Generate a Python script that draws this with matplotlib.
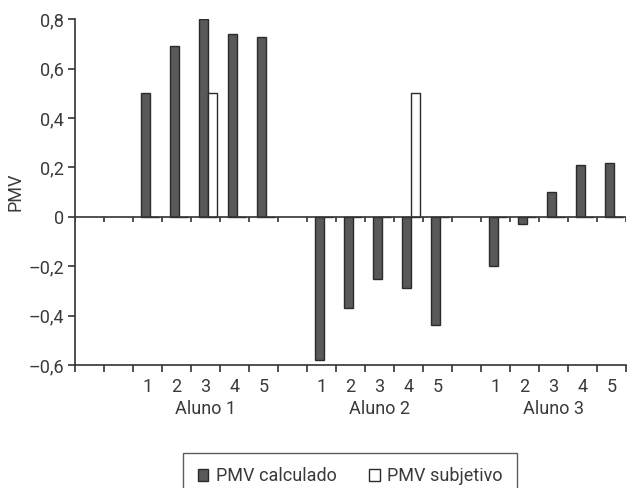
import numpy as np
import matplotlib
matplotlib.use('Agg')
import matplotlib.pyplot as plt
from matplotlib.patches import Patch
from matplotlib.transforms import ScaledTranslation

plt.rcParams['font.family'] = ['Roboto', 'DejaVu Sans']

alunos = ['Aluno 1', 'Aluno 2', 'Aluno 3']
medicoes = ['1', '2', '3', '4', '5']
calc_aluno1 = [0.50, 0.69, 0.80, 0.74, 0.73]
calc_aluno2 = [-0.58, -0.37, -0.25, -0.29, -0.44]
calc_aluno3 = [-0.20, -0.03, 0.10, 0.21, 0.22]
subj_aluno1 = [0, 0, 0.50, 0, 0]
subj_aluno2 = [0, 0, 0, 0.50, 0]
subj_aluno3 = [0, 0, 0, 0, 0]

calc = [calc_aluno1, calc_aluno2, calc_aluno3]
subj = [subj_aluno1, subj_aluno2, subj_aluno3]

# category slots: two empty, then 5 per student with one empty slot between
slots = [None, None]
for g in range(3):
    if g > 0:
        slots.append(None)
    for k in range(5):
        slots.append((g, k))
n = len(slots)

dark = '#595959'
edge = '#2b2b2b'
txt = '#3a3a3a'
fs = 13

fig = plt.figure(figsize=(6.27, 4.88), dpi=100)
ax = fig.add_axes([75 / 627, 1 - 365 / 488, 551 / 627, (365 - 19.3) / 488])

w = 0.31
xc, yc, xs, ys, labpos, lab = [], [], [], [], [], []
for i, s in enumerate(slots):
    if s is None:
        continue
    g, k = s
    xc.append(i + 0.5 - w / 2 + 0.07)
    yc.append(calc[g][k])
    xs.append(i + 0.5 + w / 2 + 0.07)
    ys.append(subj[g][k])
    labpos.append(i + 0.5)
    lab.append(medicoes[k])

ax.bar(xc, yc, width=w, color=dark, edgecolor=edge, linewidth=1.0, zorder=3)
ax.bar(xs, ys, width=w, color='white', edgecolor=edge, linewidth=1.0, zorder=3)

ax.set_xlim(0, n)
ax.set_ylim(-0.6, 0.8)
ax.set_yticks([-0.6, -0.4, -0.2, 0, 0.2, 0.4, 0.6, 0.8])
ax.set_yticklabels(['\u20130,6', '\u20130,4', '\u20130,2', '0', '0,2', '0,4', '0,6', '0,8'])
ax.set_xticks(np.arange(n + 1))
ax.set_xticklabels([])
ax.set_xticks(labpos, minor=True)
ax.set_xticklabels(lab, minor=True)
ax.tick_params(axis='x', which='minor', length=0, pad=9, labelsize=fs, labelcolor=txt)
ax.tick_params(axis='x', which='major', length=5, width=1.2, color='#333333')
ax.tick_params(axis='y', length=5, width=1.2, color='#333333', labelsize=fs, labelcolor=txt, pad=3)

for sp in ['top', 'right']:
    ax.spines[sp].set_visible(False)
for sp in ['left', 'bottom']:
    ax.spines[sp].set_linewidth(1.2)
    ax.spines[sp].set_color('#333333')

# zero line with ticks below it
ax.axhline(0, color='#333333', linewidth=1.2, zorder=4)
ax.vlines(np.arange(n + 1), -0.02, 0, color='#333333', linewidth=1.2, zorder=4)

# group labels
off = ax.transData + ScaledTranslation(0, -0.35, fig.dpi_scale_trans)
for g, name in enumerate(alunos):
    idx = [i for i, s in enumerate(slots) if s is not None and s[0] == g]
    ax.text((idx[0] + idx[-1] + 1) / 2, -0.6, name, ha='center', va='top',
            fontsize=fs, color=txt, transform=off)

ax.set_ylabel('PMV', fontsize=fs, color=txt, labelpad=3)

handles = [Patch(facecolor=dark, edgecolor=edge, label='PMV calculado'),
           Patch(facecolor='white', edgecolor=edge, label='PMV subjetivo')]
leg = fig.legend(handles=handles, loc='upper center', bbox_to_anchor=(350 / 627, 1 - 444 / 488),
                 ncol=2, frameon=True, fancybox=False, edgecolor='#333333', fontsize=fs,
                 handlelength=0.6, handleheight=0.6, handletextpad=0.4, columnspacing=1.8,
                 borderpad=0.8, labelcolor=txt)
leg.get_frame().set_linewidth(1.0)

fig.savefig('out.png', dpi=100)
